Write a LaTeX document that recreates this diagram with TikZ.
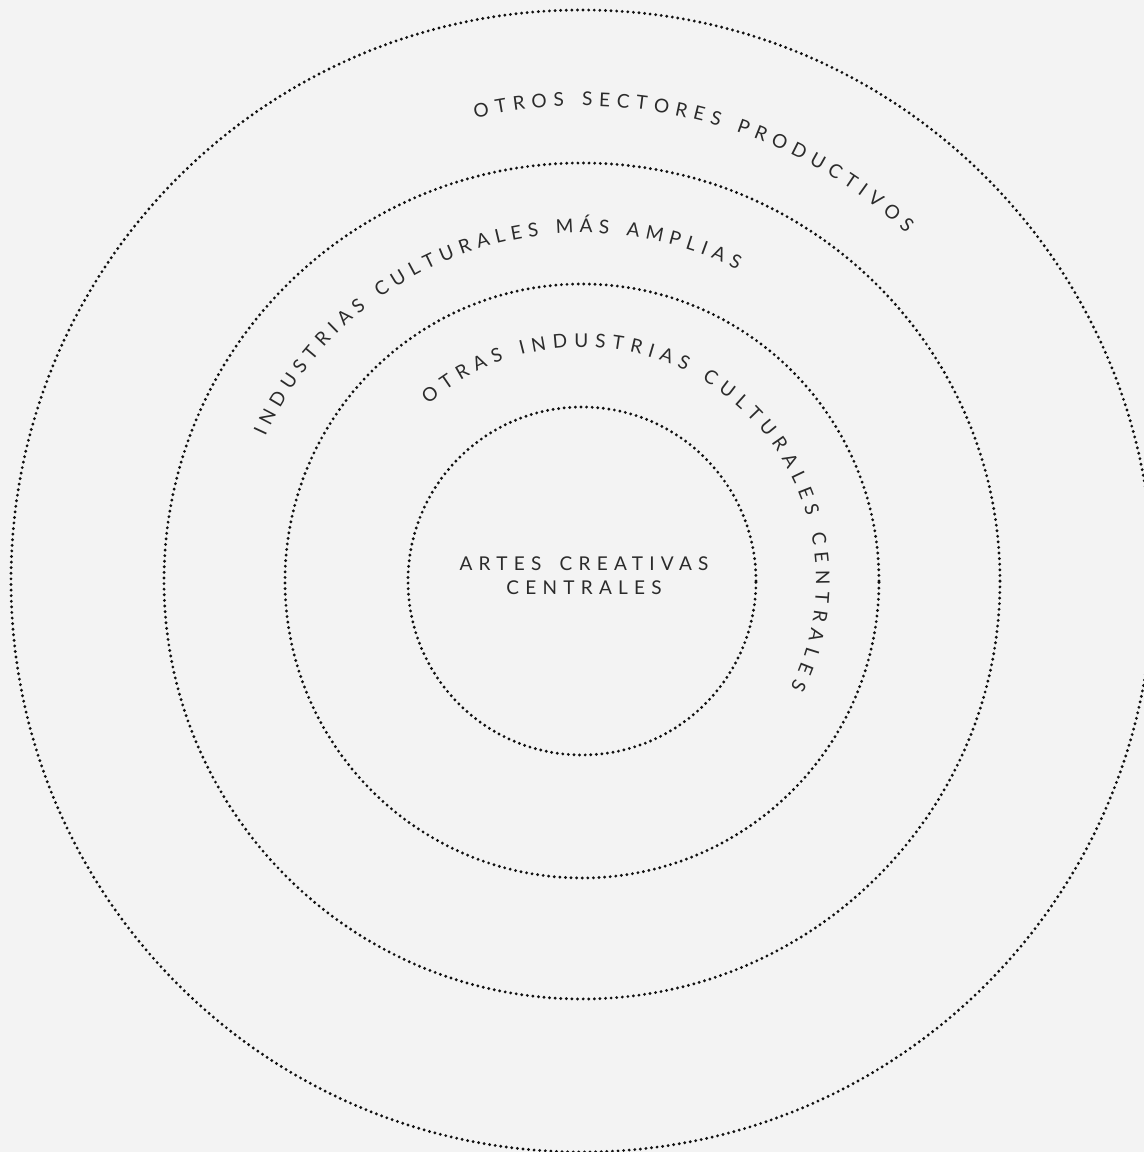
\documentclass[tikz,border=0pt]{standalone}
\usepackage{fontspec}
\usetikzlibrary{decorations.text}
\newfontfamily\ringfont{Lato}
\newfontfamily\corefont{Lato}[LetterSpace=33]
\definecolor{paper}{HTML}{F3F3F3}
\definecolor{ink}{HTML}{2B2B2B}
\definecolor{dotink}{HTML}{111111}

\begin{document}
\begin{tikzpicture}[x=0.5pt, y=0.5pt,
    ring/.style={dotink, line width=1.6pt, line cap=round, dash pattern=on 0pt off 2.8pt},
    arclabel/.style={decorate, decoration={text along path, text color=ink,
        text align={fit to path}, text={|\ringfont\fontsize{9.5}{11}\selectfont|#1}}}]
    \fill[paper] (0,0) rectangle (1144,1152);
    \useasboundingbox (0,0) rectangle (1144,1152);
    \coordinate (c) at (582,571);

    % rings, the outer one runs off the page
    \begin{scope}
      \clip (0,0) rectangle (1144,1152);
      \draw[ring] (c) circle[radius=174];
      \draw[ring] (c) circle[radius=297];
      \draw[ring] (c) circle[radius=418];
      \draw[ring] (c) circle[radius=571];
    \end{scope}

    % labels along the rings
    \path[arclabel={OTROS SECTORES PRODUCTIVOS}]
      (c) ++(103:475) arc[start angle=103, end angle=47, radius=475];
    \path[arclabel={INDUSTRIAS CULTURALES MÁS AMPLIAS}]
      (c) ++(155.5:348) arc[start angle=155.5, end angle=63.5, radius=348];
    \path[arclabel={OTRAS INDUSTRIAS CULTURALES CENTRALES}]
      (c) ++(131:234) arc[start angle=131, end angle=-27, radius=234];

    \node[font=\corefont\fontsize{9.5}{11.75}\selectfont, text=ink, align=center]
      (core) at (584,576.5) {ARTES\hspace{3.5pt} CREATIVAS\\CENTRALES};
  \end{tikzpicture}
\end{document}
